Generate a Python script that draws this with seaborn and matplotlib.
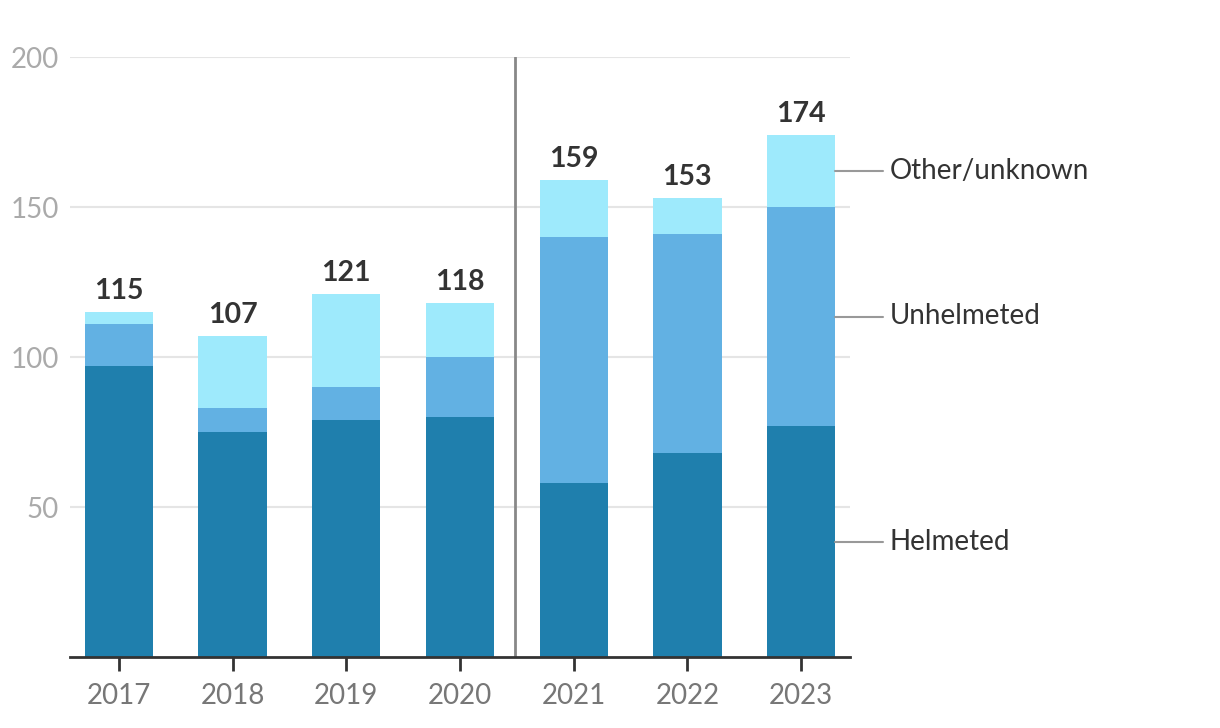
import matplotlib
matplotlib.use("Agg")
import matplotlib.pyplot as plt
import seaborn as sns
import pandas as pd
import numpy as np

years = ["2017", "2018", "2019", "2020", "2021", "2022", "2023"]
helmeted = [97, 75, 79, 80, 58, 68, 77]
unhelmeted = [14, 8, 11, 20, 82, 73, 73]
other = [4, 24, 31, 18, 19, 12, 24]
series_names = ["Helmeted", "Unhelmeted", "Other/unknown"]
colors = ["#1f7fad", "#62b1e3", "#9eeafc"]
yticks = [50, 100, 150, 200]

sns.set_theme(style="white")
plt.rcParams['font.family'] = ['Lato', 'DejaVu Sans']

df = pd.DataFrame({"year": years, "h": helmeted, "u": unhelmeted, "o": other})
df["hu"] = df["h"] + df["u"]
df["total"] = df["hu"] + df["o"]

fig = plt.figure(figsize=(12.2, 7.28), dpi=100)
ax = fig.add_axes([70/1220, 71/728, 780/1220, 600/728])

for col, c in zip(["total", "hu", "h"], [colors[2], colors[1], colors[0]]):
    sns.barplot(data=df, x="year", y=col, color=c, width=0.6, ax=ax,
                saturation=1, linewidth=0, zorder=3)

ax.set_xlim(-0.43, 6.43)
ax.set_ylim(0, 200)
ax.set_yticks(yticks)
ax.set_xlabel("")
ax.set_ylabel("")
ax.grid(axis="y", color="#e5e5e5", linewidth=1.5, zorder=0)
ax.set_axisbelow(True)
for s in ["top", "right", "left"]:
    ax.spines[s].set_visible(False)
ax.spines["bottom"].set_color("#333333")
ax.spines["bottom"].set_linewidth(2)
ax.spines["bottom"].set_zorder(5)
ax.tick_params(axis="x", length=10, width=2, color="#333333", labelsize=20,
               labelcolor="#777777", pad=9, bottom=True)
ax.tick_params(axis="y", length=0, labelsize=20, labelcolor="#aaaaaa", pad=8)

ax.axvline(3.48, color="#888888", linewidth=2, zorder=4)

for i, t in enumerate(df["total"]):
    ax.annotate(str(t), (i, t), xytext=(0, 5.5), textcoords="offset points",
                ha="center", va="bottom", fontsize=20.5, fontweight="bold",
                color="#333333", annotation_clip=False)

last = len(years) - 1
mids = [helmeted[last] / 2, helmeted[last] + unhelmeted[last] / 2,
        helmeted[last] + unhelmeted[last] + other[last] / 2]
for name, m in zip(series_names, mids):
    ax.plot([last + 0.3, last + 0.72], [m, m], color="#999999", linewidth=1.5,
            clip_on=False, zorder=4)
    ax.text(last + 0.78, m, name, ha="left", va="center", fontsize=20,
            color="#333333", clip_on=False)

fig.savefig("out.png", dpi=100)
